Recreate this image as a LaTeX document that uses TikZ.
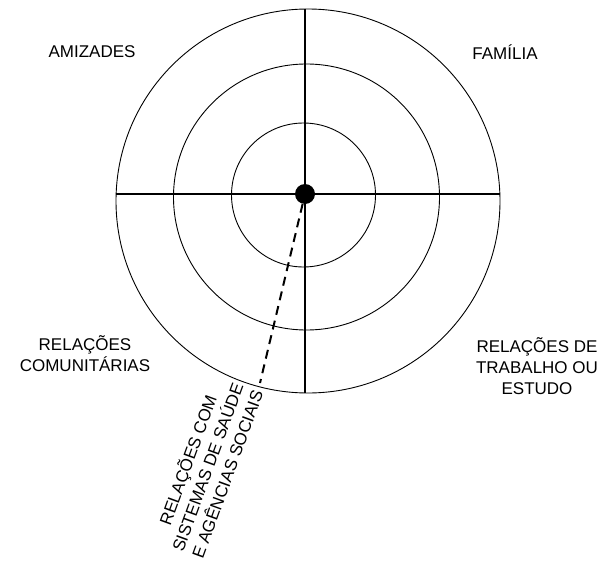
\documentclass[tikz,border=0pt]{standalone}
\usepackage{fontspec}
\setmainfont{Liberation Sans}
\usetikzlibrary{positioning,calc}

\begin{document}
\begin{tikzpicture}[x=1pt, y=-1pt, font=\fontsize{17}{21}\selectfont]
\tikzset{ring/.style={draw, circle, line width=0.9pt, inner sep=0pt}, axis/.style={line width=1.8pt}, sector/.style={align=center, inner sep=0pt}, link/.style={line width=2pt, dash pattern=on 9pt off 6pt}}
\useasboundingbox (0,0) rectangle (608,562);
\node[ring, minimum size=384pt] (outer) at (308,201) {};
\node[ring, minimum size=266pt] (middle) at (306.5,197) {};
\node[ring, minimum size=144pt] (inner) at (303.5,195) {};
\node[circle, fill, inner sep=0pt, minimum size=20pt] (hub) at (305,194) {};
\draw[axis] (hub |- outer.north) -- (hub |- outer.south);
\draw[axis] (hub -| outer.west) -- (hub -| outer.east);
\coordinate (tip) at (260,383);
\draw[link] (hub) -- (tip);
\node[sector] (amizades) at (92,52) {AMIZADES};
\node[sector] (familia) at (505,52) {FAMÍLIA};
\node[sector] (comunidade) at (85,354) {RELAÇÕES\\COMUNITÁRIAS};
\node[sector] (trabalho) at (537,366) {RELAÇÕES DE\\TRABALHO OU\\ESTUDO};
\node[sector, rotate=70, anchor=south east] (saude) at ([shift={(4,10)}]tip) {RELAÇÕES COM\\SISTEMAS DE SAÚDE\\E AGÊNCIAS SOCIAIS};
\end{tikzpicture}
\end{document}
